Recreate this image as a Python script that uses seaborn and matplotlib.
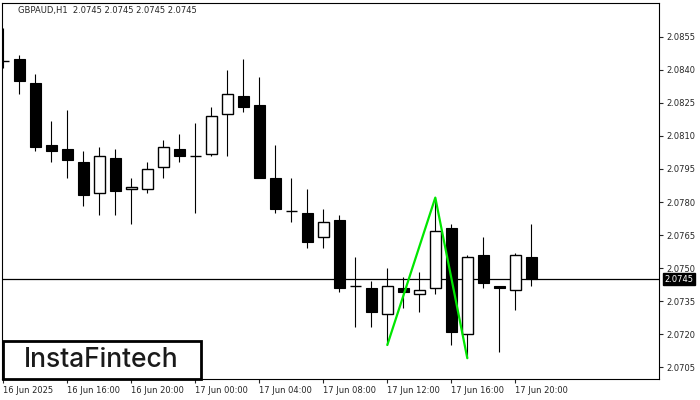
import numpy as np
import pandas as pd
import seaborn as sns
import matplotlib.pyplot as plt
from matplotlib.patches import Rectangle

# hourly candles GBPAUD H1
opens = [2.0844, 2.0845, 2.0834, 2.0806, 2.0804, 2.0798, 2.0784, 2.0800, 2.0786, 2.0786,
         2.0796, 2.0804, 2.0801, 2.0802, 2.0820, 2.0828, 2.0824, 2.0791, 2.0776, 2.0775,
         2.0764, 2.0772, 2.0742, 2.0741, 2.0729, 2.0741, 2.0738, 2.0741, 2.0768, 2.0720,
         2.0756, 2.0742, 2.0740, 2.0755]
highs = [2.0859, 2.0847, 2.0838, 2.0817, 2.0822, 2.0803, 2.0805, 2.0804, 2.0791, 2.0798,
         2.0808, 2.0811, 2.0816, 2.0823, 2.0840, 2.0845, 2.0837, 2.0806, 2.0791, 2.0786,
         2.0777, 2.0774, 2.0755, 2.0744, 2.0750, 2.0746, 2.0748, 2.0782, 2.0770, 2.0756,
         2.0764, 2.0742, 2.0757, 2.0770]
lows = [2.0841, 2.0829, 2.0803, 2.0798, 2.0791, 2.0778, 2.0774, 2.0774, 2.0770, 2.0784,
        2.0791, 2.0798, 2.0775, 2.0801, 2.0801, 2.0821, 2.0791, 2.0775, 2.0771, 2.0759,
        2.0759, 2.0739, 2.0723, 2.0723, 2.0715, 2.0732, 2.0730, 2.0738, 2.0715, 2.0709,
        2.0741, 2.0712, 2.0731, 2.0742]
closes = [2.0844, 2.0835, 2.0805, 2.0803, 2.0799, 2.0783, 2.0801, 2.0785, 2.0787, 2.0795,
          2.0805, 2.0801, 2.0801, 2.0819, 2.0829, 2.0823, 2.0791, 2.0777, 2.0776, 2.0762,
          2.0771, 2.0741, 2.0742, 2.0730, 2.0742, 2.0739, 2.0740, 2.0767, 2.0721, 2.0755,
          2.0743, 2.0741, 2.0756, 2.0745]

# double top pattern lines
pattern_idx = [24, 27, 29]
pattern_price = [2.0715, 2.0782, 2.0709]

x_labels = ['16 Jun 2025', '16 Jun 16:00', '16 Jun 20:00', '17 Jun 00:00', '17 Jun 04:00',
            '17 Jun 08:00', '17 Jun 12:00', '17 Jun 16:00', '17 Jun 20:00']
y_ticks = [2.0705, 2.0720, 2.0735, 2.0750, 2.0765, 2.0780, 2.0795, 2.0810, 2.0825, 2.0840, 2.0855]
last_price = 2.0745

df = pd.DataFrame({'open': opens, 'high': highs, 'low': lows, 'close': closes})
df['idx'] = np.arange(len(df))

sns.set_style("white")
plt.rcParams['font.family'] = ['DejaVu Sans']

fig = plt.figure(figsize=(7, 4), dpi=100)
W, H = 700, 400
ax = fig.add_axes([2 / W, 21 / H, 657 / W, 376 / H])

body_w = 0.66
for _, r in df.iterrows():
    ax.vlines(r.idx, r.low, r.high, color='black', lw=0.8, zorder=2)
    top = max(r.open, r.close)
    bot = min(r.open, r.close)
    if top - bot < 0.00003:
        ax.hlines(r.close, r.idx - body_w / 2, r.idx + body_w / 2, color='black', lw=1.0, zorder=3)
    elif r.close < r.open:
        ax.bar(r.idx, top - bot, bottom=bot, width=body_w, color='black',
               edgecolor='black', lw=0.8, zorder=3)
    else:
        ax.bar(r.idx, top - bot, bottom=bot, width=body_w, color='white',
               edgecolor='black', lw=1.0, zorder=3)

ax.axhline(last_price, color='black', lw=0.9, zorder=1)

sns.lineplot(x=pattern_idx, y=pattern_price, color='#00e600', lw=1.6, ax=ax, zorder=4)

ax.set_xlim(-0.08, 40.98)
ax.set_ylim(2.069955, 2.087045)

ax.set_xticks(np.arange(0, 33, 4))
ax.set_xticklabels(x_labels, ha='left', fontsize=6)
ax.tick_params(axis='x', direction='out', length=3, width=0.8, pad=2, bottom=True)

ax.yaxis.tick_right()
ax.set_yticks(y_ticks)
ax.set_yticklabels([f'{v:.4f}' for v in y_ticks], fontsize=6)
ax.tick_params(axis='y', direction='out', length=3, width=0.8, pad=2, right=True)
ax.set_xlabel('')
ax.set_ylabel('')
for s in ax.spines.values():
    s.set_color('black')
    s.set_linewidth(0.8)

ax.annotate(f'{last_price:.4f}', xy=(1.0, last_price), xycoords=('axes fraction', 'data'),
            xytext=(4, 0), textcoords='offset points', va='center', ha='left',
            fontsize=6, color='white',
            bbox=dict(boxstyle='square,pad=0.15', fc='black', ec='black'))

fig.text(18 / W, 1 - 11 / H, 'GBPAUD,H1  2.0745 2.0745 2.0745 2.0745',
         fontsize=6, va='center', ha='left')

# logo box
fig.patches.append(Rectangle((3 / W, 21 / H), 198 / W, 38 / H, transform=fig.transFigure,
                             fill=True, fc='white', ec='black', lw=2, zorder=5))
fig.text(101 / W, 1 - 360 / H, 'InstaFintech', fontsize=19, ha='center', va='center',
         family=['Inter', 'DejaVu Sans'], fontweight='medium', color='#1a1a1a', zorder=6)

fig.savefig('out.png', dpi=100)
